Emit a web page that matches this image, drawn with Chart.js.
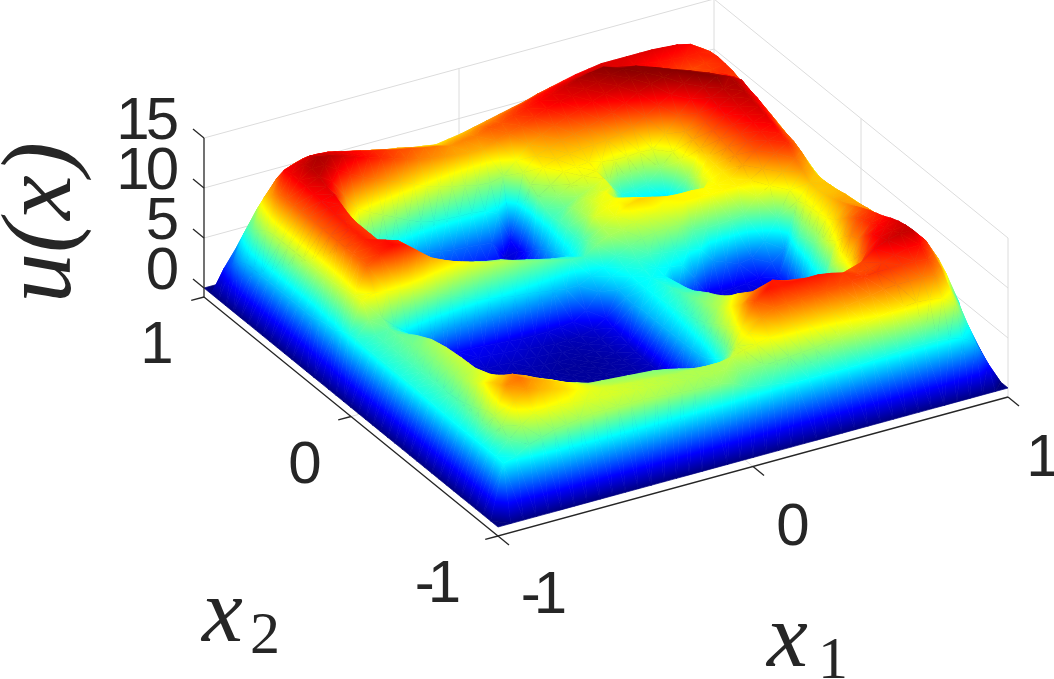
<!DOCTYPE html>
<html lang="en">
<head>
<meta charset="UTF-8">
<title>u(x) surface</title>
<script src="https://cdn.jsdelivr.net/npm/chart.js"></script>
<style>
  html, body { margin: 0; padding: 0; background: #fff; overflow: hidden; }
  #wrap { width: 1054px; height: 679px; }
  #surface { filter: blur(0.4px); }
</style>
</head>
<body>
<div id="wrap"><canvas id="surface" width="1054" height="679"></canvas></div>
<script>
const x1Values = [-1,-.95,-.9,-.85,-.8,-.75,-.7,-.65,-.6,-.55,-.5,-.45,-.4,-.35,-.3,-.25,-.2,-.15,-.1,-.05,0,.05,.1,.15,.2,.25,.3,.35,.4,.45,.5,.55,.6,.65,.7,.75,.8,.85,.9,.95,1];
const x2Values = [1,.95,.9,.85,.8,.75,.7,.65,.6,.55,.5,.45,.4,.35,.3,.25,.2,.15,.1,.05,0,-.05,-.1,-.15,-.2,-.25,-.3,-.35,-.4,-.45,-.5,-.55,-.6,-.65,-.7,-.75,-.8,-.85,-.9,-.95,-1];
const x1Ticks = [-1, 0, 1];
const x2Ticks = [-1, 0, 1];
const zTicks = [0, 5, 10, 15];

// u, one row per x2 value, one column per x1 value
const uRows = [
[0,0,0,0,0,0,0,0,0,0,0,0,0,0,0,0,0,0,0,0,0,0,0,0,0,0,0,0,0,0,0,0,0,0,0,0,0,0,0,0,0],
[0,2.2,4,6,7.8,9.2,10,10.5,10.7,10.6,10.3,10,9.7,9.4,9.2,9,8.8,8.6,8.7,8.8,9.2,9.4,9.7,10,10.4,10.7,11,11.2,11.4,11.6,11.8,11.9,12,12.1,12.2,12.2,12.2,12,11.5,9,0],
[0,3,6,8,9.6,11,11.6,11.9,11.8,11.6,11.3,11,10.8,10.5,10.3,10,9.8,9.6,9.8,10,10.3,10.6,10.9,11.2,11.5,11.9,12.2,12.5,12.8,13,13.2,13.2,13.2,13.2,13.2,13.1,13,12.7,11.9,8.5,0],
[0,4,6.8,9.8,11.4,12.2,12.6,12.7,12.6,12.3,12,11.7,11.4,11.1,10.9,10.6,10.4,10.2,10.4,10.6,11,11.2,11.6,12,12.4,12.7,13,13.2,13.4,13.5,13.4,13.2,13,12.8,12.6,12.5,12.4,12.4,12.2,8,0],
[0,4.5,7.5,10.5,12.8,13.2,13.5,13.4,13.2,12.9,12.6,12.3,12,11.7,11.5,11.2,11,10.7,10.9,11,11.5,11.6,12,12.4,12.8,13.1,13.5,13.9,14.2,14.4,14,13.6,13,12.6,12.2,11.9,11.8,12,12.3,8,0],
[0,4.5,8,11.2,13,13.6,14,13.8,13.4,13,12.6,12.2,11.8,11.4,11,10.8,10.6,10.4,10.3,10.3,10.8,11.2,11.6,12.1,12.6,13,13.2,13.5,13.8,14.2,14.5,14.4,13.8,13.2,12.6,12.1,11.8,12,12.2,8,0],
[0,4.5,8.2,11.4,13,13.8,13.8,13,12.2,11.5,11,10.5,10,9.5,8.9,8.5,8.2,7.9,7.6,7.5,7.8,9,10.3,10.9,11.5,12,12.4,12.9,13.3,13.7,14.1,14.4,14.5,14,13.2,12.6,12.2,12.2,12.1,8,0],
[0,4.5,8.2,11.4,13,13.6,12.8,11,9.4,8.6,8,7.4,6.8,6.3,6,5.9,5.8,5.8,5.6,5,2,8.4,9.8,10.2,10.6,10.9,11.2,11.6,12,12.6,13.3,13.8,14.2,14.5,14.1,13.4,12.9,12.6,11.8,7.5,0],
[0,4.5,8.2,11.4,12.8,13.2,11.8,9,6.5,5.4,4.8,4.4,4.1,3.8,3.6,3.4,3.3,3.2,3,1.2,1.5,7.8,9.2,9.7,9.9,10,10.1,10.2,10.4,10.8,11.5,12.3,13,13.8,14.5,14.1,13.5,13,11.6,7,0],
[0,4.5,8.2,11.4,12.7,13,10,5.5,3.5,3.2,3,2.8,2.7,2.6,2.6,2.5,2.4,2.3,2,1.2,2,7.2,8,9,9.2,9.3,9,8.8,8.8,8.9,8.8,10,11.5,12.8,13.7,14.4,14,13.3,11.3,6.5,0],
[0,4.5,8.2,11.4,12.6,12.6,8.5,4,2.8,2.3,2,1.9,1.8,1.8,1.7,1.7,1.6,1.5,1.4,1.2,2.8,6.6,7.5,8.3,8.8,9,7.5,6,6,6.3,7.5,8.8,10.5,12,13.2,13.8,14,13,11.1,6.5,0],
[0,4.5,8.2,11.4,12.5,12.2,6,3,2,1.7,1.5,1.4,1.3,1.3,1.3,1.2,1.2,1.2,1.2,1.5,3.5,6.3,7,7.7,8.2,8.8,7,4.5,4.5,4.7,5,8.5,10.3,11.7,12.9,13.5,13.8,12.8,10.8,6.5,0],
[0,4.5,8.2,11.4,12.4,12,4,2,1.6,1.3,1.2,1.1,1.1,1.1,1.1,1.1,1.1,1.1,1.2,1.5,4,6.5,7.6,8.2,8.5,8.6,6,3.2,3,3.2,3.6,7.5,10,11.5,12.6,13.2,13.6,12.5,10.6,6.5,0],
[0,4.5,8.2,11.4,12.4,12,3.5,1.6,1.3,1.1,1.1,1,1,1,1,1,1,1,1.2,1.5,4.4,6.5,7.8,8.5,9,7,3.5,3,2.5,2.5,3,8,9.7,11.2,12.3,13,13.4,12.2,10.3,6.5,0],
[0,4.8,8.3,11.4,12.4,12,4,2,1.2,1.1,1.1,1,1,1,1,1,1,1,1.2,1.5,4.8,6.3,8,8.8,9,8,5,3,2.5,2.8,5,8.8,9.6,11,12,12.8,13.2,11.8,10,6.5,0],
[0,5,8.4,11.4,12.4,12,7,2.5,1.5,1.2,1.2,1.2,1.2,1.2,1.2,1.2,1.2,1.3,1.4,1.8,5.2,6.5,8.5,9,9.2,9.3,8.8,4,3,3.5,7,9,9.5,10.8,11.8,12.5,12.9,11.6,9.7,6.5,0],
[0,5,8.6,11.4,12.3,12.6,12.2,11,9.8,9.2,8.7,8.3,8,7.7,7.5,7.1,6.8,6.5,6.2,6,5.6,7,8,8.8,9.5,9.8,9.6,9.3,9.2,9.2,9.1,9.2,9.4,10.4,11.5,12.2,12.5,11.4,9.2,6.5,0],
[0,5.5,8.7,11.4,12.2,12.7,12.4,11.4,10.4,9.8,9.3,8.9,8.5,8.2,8,7.6,7.3,7,6.7,6.4,6.3,7.2,7.8,8,8.4,8.6,8.8,9,9.2,9.2,9.1,9.2,9.3,9.5,10.3,11.5,12.2,11,8.8,6.5,0],
[0,5.8,8.8,9.3,9,8.8,8.6,8.1,7.4,6.8,6.2,5.8,5.5,5.3,5.1,5,4.8,4.6,4.4,4.4,5,5.5,6.3,7,7.4,7.6,7.7,7.7,6.8,6.7,6.7,6.8,7,8.5,9.2,10.2,11.2,10.4,8.5,6,0],
[0,6,7.4,7.3,6.2,5.2,4.2,3.2,2.3,1.8,1.8,1.7,1.6,1.5,1.4,1.4,1.4,1.5,1.7,2.5,4,5.2,5.8,6.2,6.4,6.2,6,5.8,5.5,4,3.5,3,3.2,4.5,6.5,9,10.6,10,8.5,6,0],
[0,5.8,6.5,6.8,6,3.5,2,1.6,1.5,1.5,1.5,1.4,1.3,1.2,1,.9,.8,.8,.9,1.2,2,4.5,5.5,5.8,5.6,5.4,5.2,3.5,1.5,1.5,1.5,1.6,1.8,3,4,8.5,10,9.9,8.5,6,0],
[0,5.8,6.5,6.9,6.5,3,1.5,1.2,1.1,1,1,1,.9,.9,.8,.7,.6,.6,.7,.9,1.6,4.3,5.4,5.6,5.4,3.2,1.5,1.2,1.2,1.2,1.2,1.2,1.2,2.2,5.5,8.8,9.9,10,8.6,6,0],
[0,5.8,6.5,7,7,2.8,1.2,1,.9,.9,.8,.8,.7,.7,.6,.5,.5,.5,.6,.8,1.4,4.2,5.4,5.8,5.6,2.5,1.2,1.2,1.2,1.2,1.2,1.2,1.2,2,6.5,8.9,10,10.1,8.9,6,0],
[0,5.8,6.5,7.1,7.4,3,1,.8,.7,.6,.6,.6,.6,.6,.5,.4,.4,.4,.5,.7,1.2,4.4,5.5,6,5.8,2,1.2,1.2,1.2,1.2,1.2,1.2,1.2,2.5,6.8,9,10.2,10.3,9,6.3,0],
[0,5.8,6.5,7.2,7.8,3,1,.7,.6,.5,.5,.5,.5,.5,.5,.4,.4,.4,.5,.6,1,4.4,5.6,6.3,6,2,1.2,1.2,1.2,1.2,1.2,1.2,1.2,3.5,7,9.2,10.5,10.4,9.2,6.5,0],
[0,5.8,6.5,7.3,8,3,1,.7,.6,.5,.5,.5,.5,.5,.5,.4,.4,.4,.5,.6,1,4.4,5.7,6.5,6.3,2,1.2,1.2,1.2,1.2,1.2,1.2,1.2,4.5,7.8,9.6,10.8,10.5,9.3,6.8,0],
[0,5.8,6.5,7.4,8.2,3,1,.7,.6,.5,.5,.5,.5,.5,.5,.4,.4,.4,.5,.6,.9,4.4,5.8,6.8,6.8,2,1.2,1.2,1.2,1.2,1.2,1.2,1.2,5,8.5,10.3,11.2,10.7,9.5,6.8,0],
[0,5.8,6.5,7.5,8.3,3,1,.7,.6,.5,.5,.5,.5,.5,.5,.4,.4,.4,.5,.6,.9,4.4,6,7.1,7.3,2,1.2,1.2,1.2,1.2,1.2,1.2,1.4,5.5,9,11,11.6,10.8,9.7,7,0],
[0,5.7,6.5,7.6,8.4,3,1,.7,.6,.5,.5,.5,.5,.5,.5,.4,.4,.4,.5,.6,.9,4.4,6.2,7.4,7.7,2,1.2,1.2,1.2,1.2,1.2,1.2,1.6,7.5,10,11.6,12,11,9.9,7,0],
[0,5.7,6.5,7.7,8.45,3,1,.7,.6,.5,.5,.5,.5,.5,.5,.4,.4,.4,.5,.6,.9,4.4,6.5,7.7,8.2,2.5,1.2,1.2,1.2,1.2,1.2,1.2,2,8.5,10.8,12,12.3,11.2,10.1,7,0],
[0,5.6,6.6,7.9,8.5,3.5,1.5,.8,.6,.5,.5,.5,.5,.5,.5,.5,.5,.5,.5,.6,1,4.5,6.8,8,8.8,3,1.5,1.2,1.2,1.2,1.2,1.3,3,9,11,12.3,12.6,11.5,10.3,7,0],
[0,5.6,6.7,8.2,8.8,4,1.6,.8,.7,.6,.6,.6,.6,.6,.6,.6,.6,.6,.7,.9,1,4.5,7.3,8.6,9.6,4.5,2,1.5,1.2,1.2,1.3,2,5,9.8,12,12.7,13,11.7,10.5,7,0],
[0,5.5,6.9,8.6,9.1,5,2,1,.8,.8,.8,.8,.8,.8,.8,.8,.8,.8,.9,1,1.2,4.8,7.8,9.3,10.3,6,3,2,1.5,1.5,1.8,3.5,8,11,12.7,13,13.3,11.9,10.8,7,0],
[0,5.5,7.2,9.2,9.6,6.5,3,1.5,1,1,1,1,1,1,1,1,1,1,1,1.2,2,5.4,8.2,10,11,9,6,4,3,3,3.5,7,10,12,13,13.3,13.5,12.1,10.4,6.5,0],
[0,5.5,7.5,9.8,10.2,8.8,5.5,3,1.5,1,1,1,1,1,1,1,1,1,1,2,3.5,6,8.8,11,11.8,12.4,12,11,10.5,10.5,11,11.4,11.8,12.8,13.3,13.6,13.6,12.2,10,6.5,0],
[0,5.5,8,10.2,10.9,10.4,9.8,9.3,8.7,8.3,7.9,7.8,7.7,7.6,7.5,7.4,7.2,6.9,6.3,5.9,5.4,7.2,9.4,11.6,12.5,12.4,12.5,12.5,12.5,12.3,12,11.7,11.7,12,12.4,12.7,12.7,11.5,9.2,6,0],
[0,5.5,8,10.8,11.2,10.6,10.2,9.7,9.2,8.7,8.3,8.1,8,7.9,7.8,7.7,7.6,7.4,7.2,7,6.8,8.4,9.4,10.6,11.2,11.3,11.4,11.5,11.6,11.7,11.8,11.9,12,12,12,12,11.9,10.8,7.8,4.1,0],
[0,5.5,7.6,9.8,10.6,10.2,9.9,9.6,9.1,8.8,8.6,8.5,8.4,8.3,8.2,8.1,8,8,8,8,8.2,8.6,8.9,9.2,9.5,9.6,9.7,9.8,10,10.2,10.4,10.6,10.9,11,11,11,10.8,9.6,6.9,3.5,0],
[0,5.5,6.8,8,8.8,9,8.9,8.8,8.6,8.6,8.6,8.5,8.4,8.3,8.2,8.1,8,8,8,7.9,7.5,7.4,7.3,7.4,7.5,7.6,7.7,7.9,8.1,8.4,8.7,9,9.3,9.4,9.5,9.4,9.2,8.3,5.8,2.9,0],
[0,5.4,5.8,6.6,7,7.4,7.6,7.8,8,8,8,8,8,7.9,7.8,7.7,7.6,7.5,7.5,7.2,6.5,6.2,6,5.8,5.6,5.6,5.6,5.6,5.6,5.6,5.7,5.8,5.9,5.9,5.9,5.9,5.7,5.4,4.7,2.2,0],
[0,0,0,0,0,0,0,0,0,0,0,0,0,0,0,0,0,0,0,0,0,0,0,0,0,0,0,0,0,0,0,0,0,0,0,0,0,0,0,0,0]
];

const C_MAX = 14.6;
const Z_FLOOR = -0.9;
const AXIS_COLOR = '#262626';
const GRID_COLOR = '#dcdcdc';

// orthographic view of the MATLAB axes box, scale units are picture pixels
function project(x1, x2, z) {
  return {
    x: 498 + 255 * (x1 + 1) - 147 * (x2 + 1),
    y: 527 - 69.5 * (x1 + 1) - 119.5 * (x2 + 1) - 10 * z
  };
}

// jet colormap knots
const jetKnots = [
  [0, 0, 0, 128], [.125, 0, 0, 255], [.375, 0, 255, 255],
  [.625, 255, 255, 0], [.875, 255, 0, 0], [1, 128, 0, 0]
];
function jet(u) {
  const t = Math.max(0, Math.min(1, u / C_MAX));
  for (let k = 1; k < jetKnots.length; k++) {
    const a = jetKnots[k - 1], b = jetKnots[k];
    if (t <= b[0]) {
      const f = (t - a[0]) / (b[0] - a[0]);
      return 'rgb(' + [1, 2, 3].map(c => Math.round(a[c] + f * (b[c] - a[c]))).join(',') + ')';
    }
  }
  return 'rgb(128,0,0)';
}

// every grid vertex goes through the chart as one point
const surfacePoints = [];
uRows.forEach((row, j) => row.forEach((u, i) => surfacePoints.push(project(x1Values[i], x2Values[j], u))));

function gridLine(points) {
  return { data: points, showLine: true, borderColor: GRID_COLOR, borderWidth: 1, pointRadius: 0, order: 3 };
}
function axisLine(points) {
  return { data: points, showLine: true, borderColor: AXIS_COLOR, borderWidth: 1.3, pointRadius: 0, order: 1 };
}

const datasets = [];
// walls and floor
zTicks.forEach(z => {
  datasets.push(gridLine([project(-1, 1, z), project(1, 1, z), project(1, -1, z)]));
});
datasets.push(gridLine([project(1, 1, Z_FLOOR), project(1, 1, 15)]));
datasets.push(gridLine([project(1, -1, Z_FLOOR), project(1, -1, 15)]));
datasets.push(gridLine([project(0, 1, Z_FLOOR), project(0, 1, 15)]));
datasets.push(gridLine([project(1, 0, Z_FLOOR), project(1, 0, 15)]));
datasets.push(gridLine([project(0, -1, Z_FLOOR), project(0, 1, Z_FLOOR)]));
datasets.push(gridLine([project(-1, 0, Z_FLOOR), project(1, 0, Z_FLOOR)]));
// surface vertices, the mesh is painted by the plugin below
const SURFACE = datasets.length;
datasets.push({ data: surfacePoints, showLine: false, pointRadius: 0, order: 2 });
// axes
datasets.push(axisLine([project(-1, 1, Z_FLOOR), project(-1, -1, Z_FLOOR), project(1, -1, Z_FLOOR)]));
datasets.push(axisLine([project(-1, 1, Z_FLOOR), project(-1, 1, 15)]));
x1Ticks.forEach(t => datasets.push(axisLine([project(t, -1, Z_FLOOR), project(t, -1.075, Z_FLOOR)])));
x2Ticks.forEach(t => datasets.push(axisLine([project(-1, t, Z_FLOOR), project(-1.05, t, Z_FLOOR)])));
zTicks.forEach(z => datasets.push(axisLine([project(-1, 1, z), project(-1, 1.075, z)])));

function paintTriangle(ctx, pts, us) {
  let lo = 0, hi = 0;
  for (let k = 1; k < 3; k++) {
    if (us[k] < us[lo]) lo = k;
    if (us[k] > us[hi]) hi = k;
  }
  const uMin = us[lo], uMax = us[hi];
  const d1x = pts[1].x - pts[0].x, d1y = pts[1].y - pts[0].y;
  const d2x = pts[2].x - pts[0].x, d2y = pts[2].y - pts[0].y;
  const det = d1x * d2y - d1y * d2x;
  let paint = jet((uMin + uMax) / 2);
  if (Math.abs(det) > 1e-6 && uMax - uMin > 0.01) {
    const du1 = us[1] - us[0], du2 = us[2] - us[0];
    const gx = (du1 * d2y - du2 * d1y) / det;
    const gy = (du2 * d1x - du1 * d2x) / det;
    const len = (uMax - uMin) / (gx * gx + gy * gy);
    const sx = pts[lo].x, sy = pts[lo].y;
    const grad = ctx.createLinearGradient(sx, sy, sx + gx * len, sy + gy * len);
    grad.addColorStop(0, jet(uMin));
    jetKnots.forEach(k => {
      const u = k[0] * C_MAX;
      if (u > uMin && u < uMax) grad.addColorStop((u - uMin) / (uMax - uMin), jet(u));
    });
    grad.addColorStop(1, jet(uMax));
    paint = grad;
  }
  ctx.beginPath();
  ctx.moveTo(pts[0].x, pts[0].y);
  ctx.lineTo(pts[1].x, pts[1].y);
  ctx.lineTo(pts[2].x, pts[2].y);
  ctx.closePath();
  ctx.fillStyle = paint;
  ctx.strokeStyle = paint;
  ctx.fill();
  ctx.stroke();
}

const meshPlugin = {
  id: 'mesh',
  afterDatasetDraw(chart, args) {
    if (args.index !== SURFACE) return;
    const ctx = chart.ctx;
    const els = chart.getDatasetMeta(SURFACE).data;
    const n = x1Values.length;
    ctx.save();
    ctx.lineWidth = 0.7;
    ctx.lineJoin = 'round';
    // back to front: x2 runs from 1 to -1 by row, x1 from 1 to -1 inside a row
    for (let j = 0; j < uRows.length - 1; j++) {
      for (let i = n - 2; i >= 0; i--) {
        const far = [i + 1 + j * n, i + j * n, i + (j + 1) * n, i + 1 + (j + 1) * n]; // (hi,hi) (lo,hi) (lo,lo) (hi,lo)
        const p = far.map(q => els[q]);
        const u = [uRows[j][i + 1], uRows[j][i], uRows[j + 1][i], uRows[j + 1][i + 1]];
        if (Math.abs(u[1] - u[3]) <= Math.abs(u[0] - u[2])) {
          paintTriangle(ctx, [p[0], p[1], p[3]], [u[0], u[1], u[3]]);
          paintTriangle(ctx, [p[1], p[2], p[3]], [u[1], u[2], u[3]]);
        } else {
          paintTriangle(ctx, [p[0], p[1], p[2]], [u[0], u[1], u[2]]);
          paintTriangle(ctx, [p[0], p[2], p[3]], [u[0], u[2], u[3]]);
        }
      }
    }
    ctx.restore();
  }
};

function label(ctx, text, x, y, font, align, spacing) {
  ctx.font = font;
  ctx.textAlign = align || 'center';
  // the reference sets its two character labels tighter than Liberation does
  ctx.letterSpacing = (spacing || 0) + 'px';
  ctx.fillText(text, x + (spacing || 0), y);
  ctx.letterSpacing = '0px';
}

const textPlugin = {
  id: 'axisText',
  afterDraw(chart) {
    const ctx = chart.ctx;
    const sans = '60px "Liberation Sans", Arial, sans-serif';
    ctx.save();
    ctx.fillStyle = AXIS_COLOR;
    ctx.textBaseline = 'middle';
    zTicks.forEach(z => label(ctx, String(z), 179, project(-1, 1, z).y - 16, sans, 'right', z > 5 ? -4 : 0));
    label(ctx, '1', 157, 346, sans);
    label(ctx, '0', 305, 466, sans);
    label(ctx, '-1', 461, 585, sans, 'right', -7);
    label(ctx, '-1', 567, 596, sans, 'right', -7);
    label(ctx, '0', 793, 528, sans);
    label(ctx, '1', 1043, 459, sans);
    ctx.textBaseline = 'alphabetic';
    const math = 'italic 92px "Liberation Serif", serif';
    const sub = '60px "Liberation Serif", serif';
    label(ctx, 'x', 202, 641, math, 'left');
    label(ctx, '2', 250, 653, sub, 'left');
    label(ctx, 'x', 767, 666, math, 'left');
    label(ctx, '1', 818, 678, sub, 'left');
    ctx.translate(70, 303);
    ctx.rotate(-Math.PI / 2);
    label(ctx, 'u(x)', 0, 0, 'italic 100px "Liberation Serif", serif', 'left');
    ctx.restore();
  }
};

new Chart(document.getElementById('surface'), {
  type: 'scatter',
  data: { datasets },
  options: {
    responsive: false,
    animation: false,
    events: [],
    layout: { padding: 0 },
    plugins: { legend: { display: false }, tooltip: { enabled: false } },
    scales: {
      x: { type: 'linear', min: 0, max: 1054, display: false },
      y: { type: 'linear', min: 0, max: 679, reverse: true, display: false }
    }
  },
  plugins: [meshPlugin, textPlugin]
});
</script>
</body>
</html>
